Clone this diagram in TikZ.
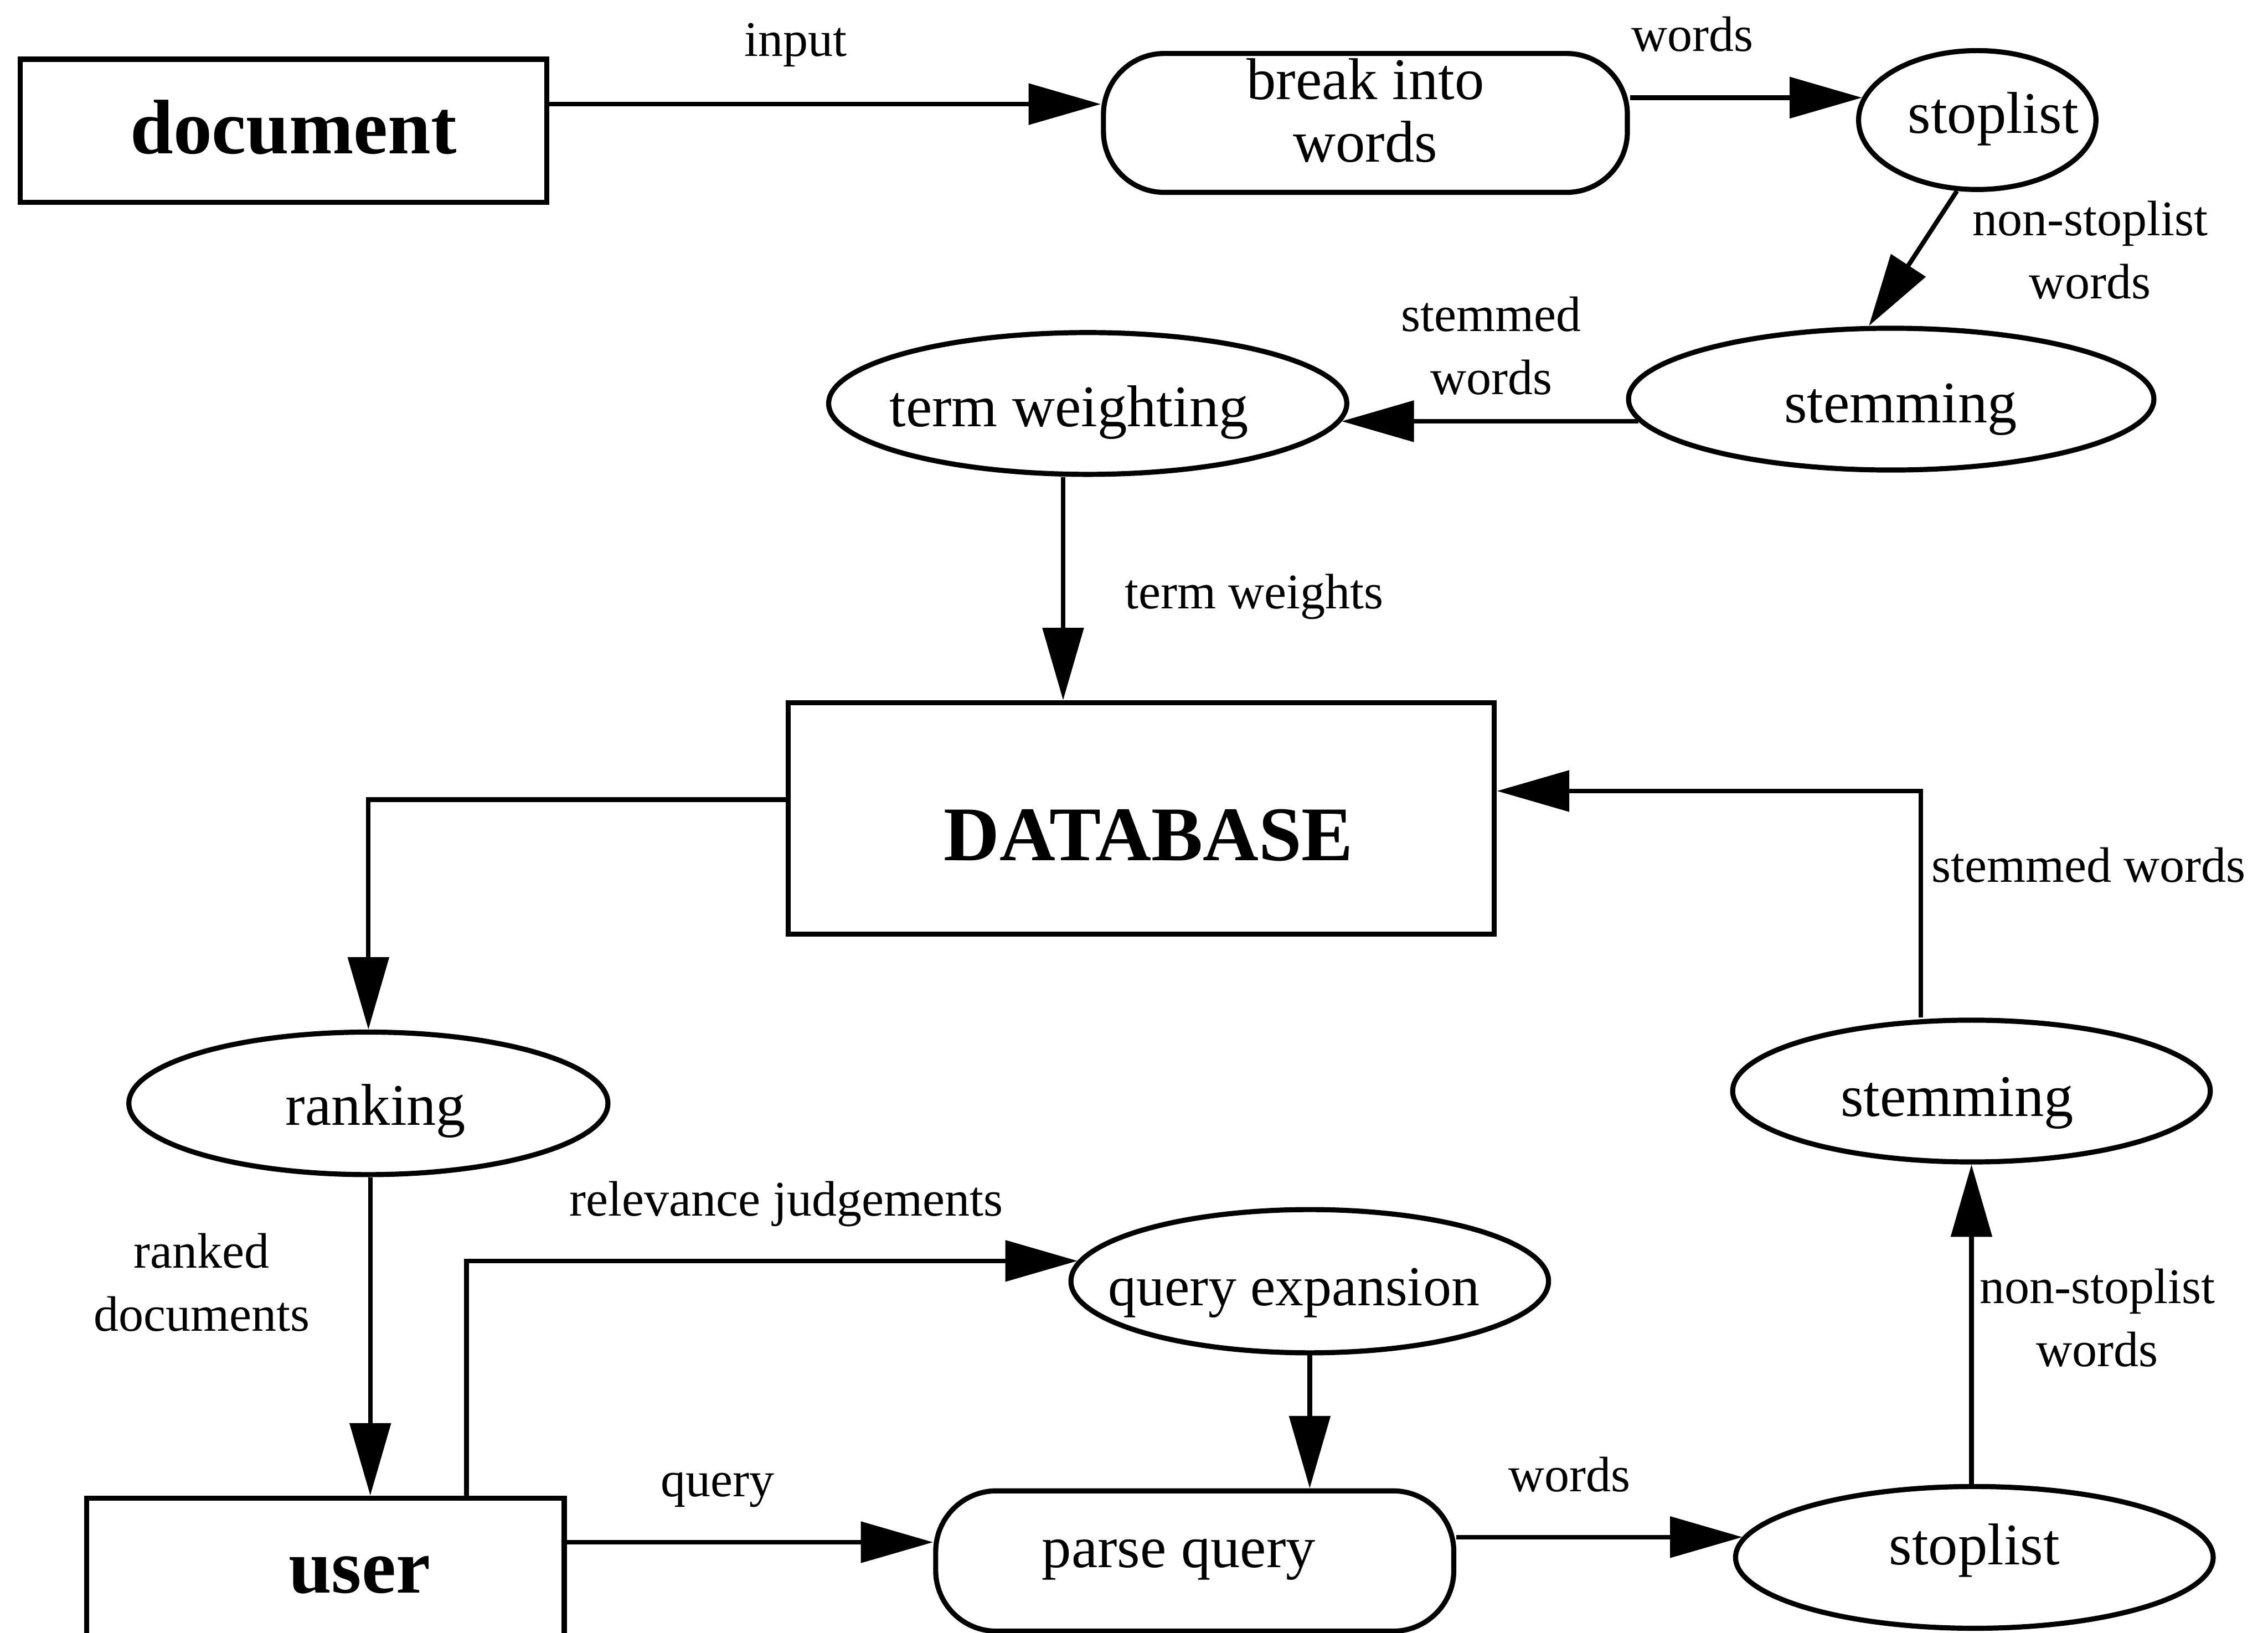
\documentclass[tikz,border=0pt]{standalone}
\usepackage{fontspec}
\setmainfont{Liberation Serif}
\usetikzlibrary{arrows.meta,shapes.geometric}

\begin{document}
\begin{tikzpicture}[
    x=0.01cm, y=-0.01cm,
    shapebase/.style={draw, line width=1pt, inner sep=0pt},
    procbox/.style={shapebase, rectangle, minimum width=3.30cm, minimum height=1.0cm,
                    font=\fontsize{15.2}{18}\selectfont\bfseries},
    roundbox/.style={shapebase, rectangle, rounded corners=0.42cm,
                     font=\fontsize{11.6}{12.3}\selectfont},
    oval/.style={shapebase, ellipse, font=\fontsize{11.6}{12.3}\selectfont},
    lbl/.style={inner sep=0pt, align=center, font=\fontsize{9.8}{12.4}\selectfont},
    flow/.style={line width=0.9pt, -{Triangle[length=0.5cm,width=0.28cm]}},
    % moves a node's text sideways by half the given length
    tshift/.style={execute at begin node={\hspace*{#1}}},
  ]
  \useasboundingbox (0,0) rectangle (1568,1129);

  % ---- indexing side ----
  \node[procbox, minimum width=3.64cm, minimum height=0.99cm, text height=0.32cm,
        tshift=0.14cm]
       (doc) at (196,90.5) {document};
  \node[roundbox, minimum width=3.62cm, minimum height=0.96cm, align=center]
       (brk) at (944,85) {break into\\words\rule[-0.18cm]{0pt}{0pt}};
  \node[oval, minimum width=1.64cm, minimum height=0.96cm, text height=0.27cm,
        tshift=0.22cm, inner xsep=-0.135cm]
       (stopA) at (1367,83) {stoplist};
  \node[oval, minimum width=3.63cm, minimum height=0.98cm, text height=0.41cm,
        tshift=0.13cm]
       (stemA) at (1307.5,276) {stemming};
  \node[oval, minimum width=3.58cm, minimum height=0.98cm, text height=0.41cm,
        tshift=-0.26cm]
       (tw) at (752,279) {term weighting};

  % ---- central store ----
  \node[procbox, minimum width=4.88cm, minimum height=1.60cm, text height=0.59cm,
        tshift=0.1cm]
       (db) at (789,566) {DATABASE};

  % ---- query side ----
  \node[oval, minimum width=3.31cm, minimum height=0.985cm, text height=0.39cm,
        tshift=0.1cm]
       (rank) at (254.7,763) {ranking};
  \node[procbox, minimum width=3.30cm, minimum height=1.02cm, text height=0.30cm,
        tshift=0.47cm]
       (user) at (225,1087) {user};
  \node[oval, minimum width=3.30cm, minimum height=0.99cm, text height=0.42cm,
        font=\fontsize{11.1}{12.3}\selectfont, tshift=-0.22cm, inner xsep=-0.03cm]
       (qe) at (905.5,886) {query expansion};
  \node[roundbox, minimum width=3.58cm, minimum height=0.97cm, text height=0.18cm,
        tshift=-0.22cm]
       (pq) at (826,1079.5) {parse query};
  \node[oval, minimum width=3.30cm, minimum height=0.98cm, text height=0.19cm]
       (stopB) at (1365,1077) {stoplist};
  \node[oval, minimum width=3.30cm, minimum height=0.98cm, text height=0.44cm,
        tshift=-0.2cm]
       (stemB) at (1363,754.5) {stemming};

  % ---- connectors ----
  \draw[flow] (doc.east |- 0,72) -- (brk.west |- 0,72);
  \draw[flow] (brk.east |- stopA.169) -- (stopA.169);
  \draw[flow] (stopA.254) -- (stemA.107);
  \draw[flow] (stemA.185) -- (tw.356 |- stemA.185);
  \draw[flow] (tw.south -| 735,0) -- (db.north -| 735,0);
  \draw[flow] (db.west |- 0,553) -| (rank.north);
  \draw[flow] (rank.south -| 256,0) -- (user.north -| 256,0);
  \draw[flow] (user.north -| 322.5,0) |- (qe.175.1);
  \draw[flow] (user.east |- 0,1066.5) -- (pq.west |- 0,1066.5);
  \draw[flow] (qe.south) -- (pq.north -| qe.south);
  \draw[flow] (pq.east |- stopB.175) -- (stopB.175);
  \draw[flow] (stopB.north -| 1363,0) -- (stemB.south);
  \draw[flow] (stemB.north -| 1328,0) |- (db.east |- 0,547);

  % ---- connector labels ----
  \node[lbl, anchor=base] (lInput)  at (550,39)    {input};
  \node[lbl, anchor=base] (lWordsA) at (1170,35.5) {words};
  \node[lbl]              (lNonA)   at (1445,173)  {non-stoplist\\words};
  \node[lbl]              (lStemA)  at (1031,239)  {stemmed\\words};
  \node[lbl, anchor=base] (lTw)     at (867,421)   {term weights};
  \node[lbl, anchor=base] (lStemB)  at (1444,610)  {stemmed words};
  \node[lbl, anchor=base] (lRel)    at (543.6,841) {relevance judgements};
  \node[lbl]              (lRanked) at (139.5,887) {ranked\\documents};
  \node[lbl]              (lNonB)   at (1450,911.5){non-stoplist\\words};
  \node[lbl, anchor=base] (lQuery)  at (496,1035)  {query};
  \node[lbl, anchor=base] (lWordsB) at (1085,1031.5){words};
\end{tikzpicture}
\end{document}
